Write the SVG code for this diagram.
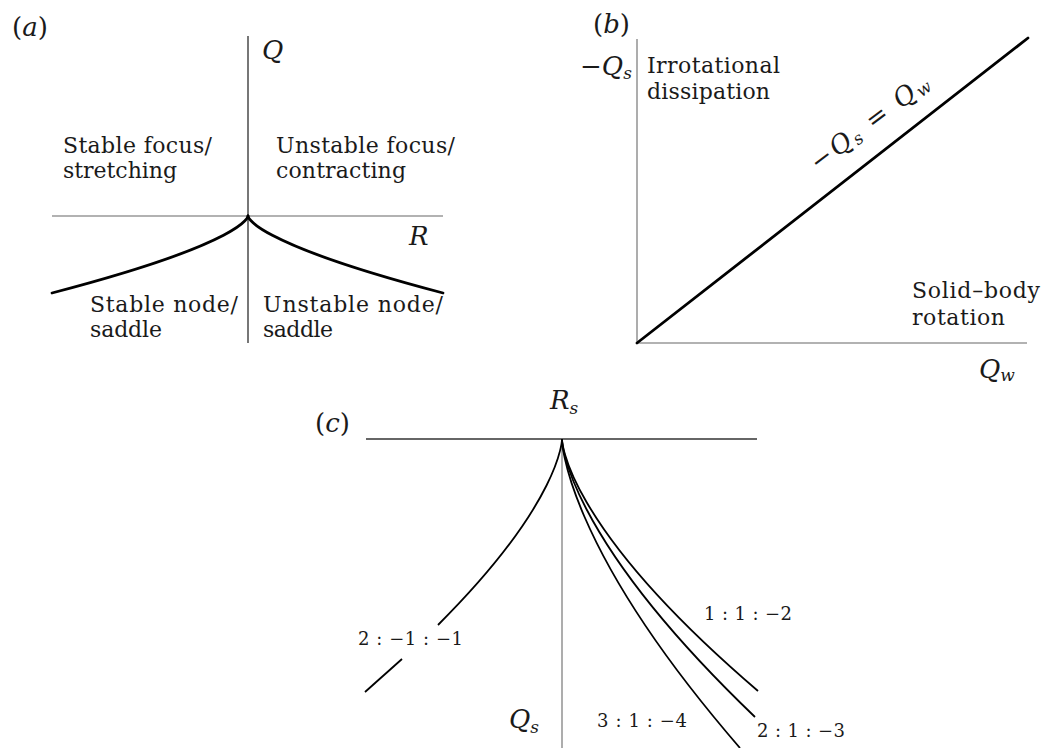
<svg xmlns="http://www.w3.org/2000/svg" width="1043" height="748" viewBox="0 0 1043 748">
<style>
.t{font-family:"DejaVu Serif","Liberation Serif","Times New Roman",serif;font-size:22px;fill:#1a1a1a}
.m{font-family:"DejaVu Serif","Liberation Serif","Times New Roman",serif;font-style:italic;font-size:26px;fill:#1a1a1a}
.sub{font-size:17px}
.up{font-style:normal}
.r{font-family:"DejaVu Serif","Liberation Serif","Times New Roman",serif;font-size:18px;fill:#1a1a1a}
.ax{stroke:#999;stroke-width:1.6;fill:none}
.axd{stroke:#555;stroke-width:1.6;fill:none}
.cv{stroke:#000;stroke-width:2.8;fill:none;stroke-linecap:round}
.cv2{stroke:#000;stroke-width:1.8;fill:none}
</style>
<rect width="1043" height="748" fill="#fff"/>
<g id="panel-a">
  <line class="axd" x1="248" y1="36" x2="248" y2="343"/>
  <line class="ax" x1="52" y1="216" x2="443" y2="216"/>
  <path class="cv" d="M248 216 C248 216 248 241.7 52 293"/>
  <path class="cv" d="M248 216 C248 216 248 241.7 443 293"/>
  <text class="m" x="12" y="36"><tspan class="up">(</tspan>a<tspan class="up">)</tspan></text>
  <text class="m" x="262" y="59">Q</text>
  <text class="m" x="409" y="245">R</text>
  <text class="t" x="63" y="153" textLength="149">Stable focus/</text>
  <text class="t" x="63" y="178" textLength="114">stretching</text>
  <text class="t" x="276" y="153" textLength="179">Unstable focus/</text>
  <text class="t" x="276" y="178" textLength="130">contracting</text>
  <text class="t" x="90" y="312" textLength="148">Stable node/</text>
  <text class="t" x="90" y="337" textLength="72">saddle</text>
  <text class="t" x="263" y="312" textLength="180">Unstable node/</text>
  <text class="t" x="263" y="337" textLength="70">saddle</text>
</g>
<g id="panel-b">
  <line class="ax" x1="637" y1="39" x2="637" y2="343"/>
  <line class="ax" x1="637" y1="343" x2="1027" y2="343"/>
  <line class="cv" x1="637" y1="343" x2="1028" y2="38"/>
  <text class="m" x="593" y="33"><tspan class="up">(</tspan>b<tspan class="up">)</tspan></text>
  <text class="m" x="580" y="75"><tspan class="up">−</tspan>Q<tspan class="sub" dy="4">s</tspan></text>
  <text class="m" x="979" y="378">Q<tspan class="sub" dy="3">w</tspan></text>
  <text class="t" x="647" y="73" textLength="133">Irrotational</text>
  <text class="t" x="647" y="99" textLength="123">dissipation</text>
  <text class="t" x="912" y="298" textLength="128">Solid–body</text>
  <text class="t" x="912" y="325" textLength="93">rotation</text>
  <text class="m" transform="translate(818 172) rotate(-37)" font-size="31" textLength="142"><tspan class="up">−</tspan>Q<tspan class="sub" font-size="21" dy="3">s</tspan><tspan dy="-3" class="up"> = </tspan>Q<tspan class="sub" font-size="21" dy="3">w</tspan></text>
</g>
<g id="panel-c">
  <line x1="366" y1="439" x2="757" y2="439" stroke="#333" stroke-width="1.6"/>
  <line class="ax" x1="562" y1="439" x2="562" y2="748"/>
  <g id="connectors">
    <path class="cv2" d="M562 439 C562 439 562 501 438 625"/>
    <line class="cv2" x1="402" y1="659" x2="365" y2="692"/>
    <path class="cv2" d="M562 439 C562 439 562 523 758 691"/>
    <path class="cv2" d="M562 439 C562 439 562 531.7 755 717"/>
    <path class="cv2" d="M562 439 C562 439 562 542 740 748"/>
  </g>
  <text class="m" x="315" y="432"><tspan class="up">(</tspan>c<tspan class="up">)</tspan></text>
  <text class="m" x="550" y="409">R<tspan class="sub" dy="5">s</tspan></text>
  <text class="m" x="509" y="728">Q<tspan class="sub" dy="5">s</tspan></text>
  <text class="r" x="358" y="645" textLength="105">2 : −1 : −1</text>
  <text class="r" x="704" y="620" textLength="88">1 : 1 : −2</text>
  <text class="r" x="757" y="737" textLength="88">2 : 1 : −3</text>
  <text class="r" x="597" y="727" textLength="90">3 : 1 : −4</text>
</g>
</svg>
